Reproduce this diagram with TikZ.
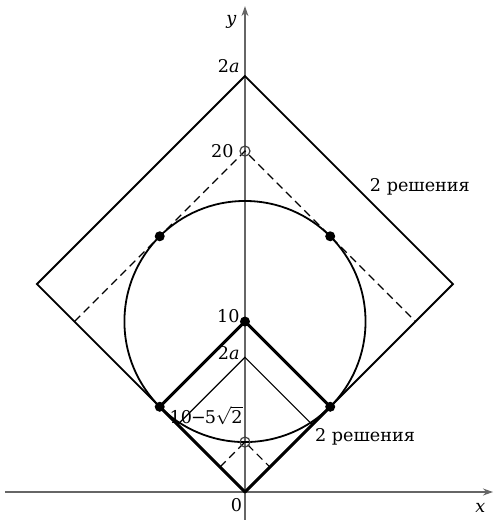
\documentclass[tikz,border=0pt]{standalone}
\usepackage{fontspec}
\setmainfont{DejaVu Serif}
\usetikzlibrary{arrows.meta}
\begin{document}
\begin{tikzpicture}[x=8.525pt,y=8.525pt, font=\fontsize{8.8}{10.5}\selectfont,
 axis/.style={draw=black!60, line width=0.6pt},
 bigsq/.style={line width=0.9pt},
 thicksq/.style={line width=1.5pt, line join=round},
 thinsq/.style={line width=0.6pt},
 dsq/.style={line width=0.6pt, dash pattern=on 4pt off 2.5pt},
 circ/.style={line width=0.9pt},
 dot/.style={circle, fill=black, inner sep=0pt, minimum size=5pt},
 odot/.style={circle, draw=black!75, inner sep=0pt, minimum size=5pt, line width=0.6pt},
 lab/.style={inner sep=0pt}]
\useasboundingbox (-14.37,-1.642) rectangle (14.60,28.86);
% coordinates
\coordinate (O) at (0,0);
\coordinate (A) at (0,24.4);
\coordinate (BL) at (-12.2,12.2);
\coordinate (BR) at (12.2,12.2);
\coordinate (D20) at (0,20);
\coordinate (DL) at (-10,10);
\coordinate (DR) at (10,10);
\coordinate (C) at (0,10);
\coordinate (T) at (0,7.9);
\coordinate (TL) at (-3.95,3.95);
\coordinate (TR) at (3.95,3.95);
\coordinate (S) at (0,2.929);
\coordinate (SL) at (-1.464,1.464);
\coordinate (SR) at (1.464,1.464);
\coordinate (P1) at (-5,5);
\coordinate (P2) at (5,5);
\coordinate (P3) at (-5,15);
\coordinate (P4) at (5,15);
\coordinate (XL) at (-14.08,0);
\coordinate (XR) at (14.55,0);
\coordinate (YB) at (0,-1.642);
\coordinate (YT) at (0,28.5);
% axes
\draw[axis,-{Stealth[length=5pt,width=3.5pt]}] (XL) -- (XR);
\draw[axis,-{Stealth[length=5pt,width=3.5pt]}] (YB) -- (YT);
\node[lab,font=\fontsize{8.8}{10.5}\selectfont\itshape] (ylab) at (-0.8,27.6) {y};
\node[lab,font=\fontsize{8.8}{10.5}\selectfont\itshape] (xlab) at (13.8,-0.95) {x};
\node[lab] (zlab) at (-0.5,-0.75) {0};
% squares
\draw[bigsq] (O) -- (BL) -- (A) -- (BR) -- cycle;
\draw[dsq] (DL) -- (D20) -- (DR);
\draw[thinsq] (TL) -- (T) -- (TR);
\draw[dsq] (SL) -- (S) -- (SR);
\draw[thicksq] (O) -- (P1) -- (C) -- (P2) -- cycle;
% circle
\draw[circ] (C) circle (7.071);
% points
\node[dot] (p1) at (P1) {};
\node[dot] (p2) at (P2) {};
\node[dot] (p3) at (P3) {};
\node[dot] (p4) at (P4) {};
\node[dot] (c) at (C) {};
\node[odot] (d20) at (D20) {};
\node[odot] (s) at (S) {};
% labels
\node[lab,anchor=south east] (l2a) at ([xshift=-2.5pt,yshift=1.5pt]A) {2\textit{a}};
\node[lab,anchor=east] (l20) at ([xshift=-5.5pt]D20) {20};
\node[lab,anchor=east] (l10) at ([xshift=-2.5pt,yshift=2.5pt]C) {10};
\node[lab,anchor=east] (l2ai) at ([xshift=-2.5pt,yshift=2pt]T) {2\textit{a}};
\node[lab,anchor=south east] (lsq) at ([xshift=-1pt,yshift=8.5pt]S) {10\kern-0.5pt−\kern-0.5pt5$\sqrt{\mbox{2}}$};
\node[lab] (r1) at (10.26,17.89) {2 решения};
\node[lab] (r2) at (7.04,3.23) {2 решения};
\end{tikzpicture}
\end{document}
